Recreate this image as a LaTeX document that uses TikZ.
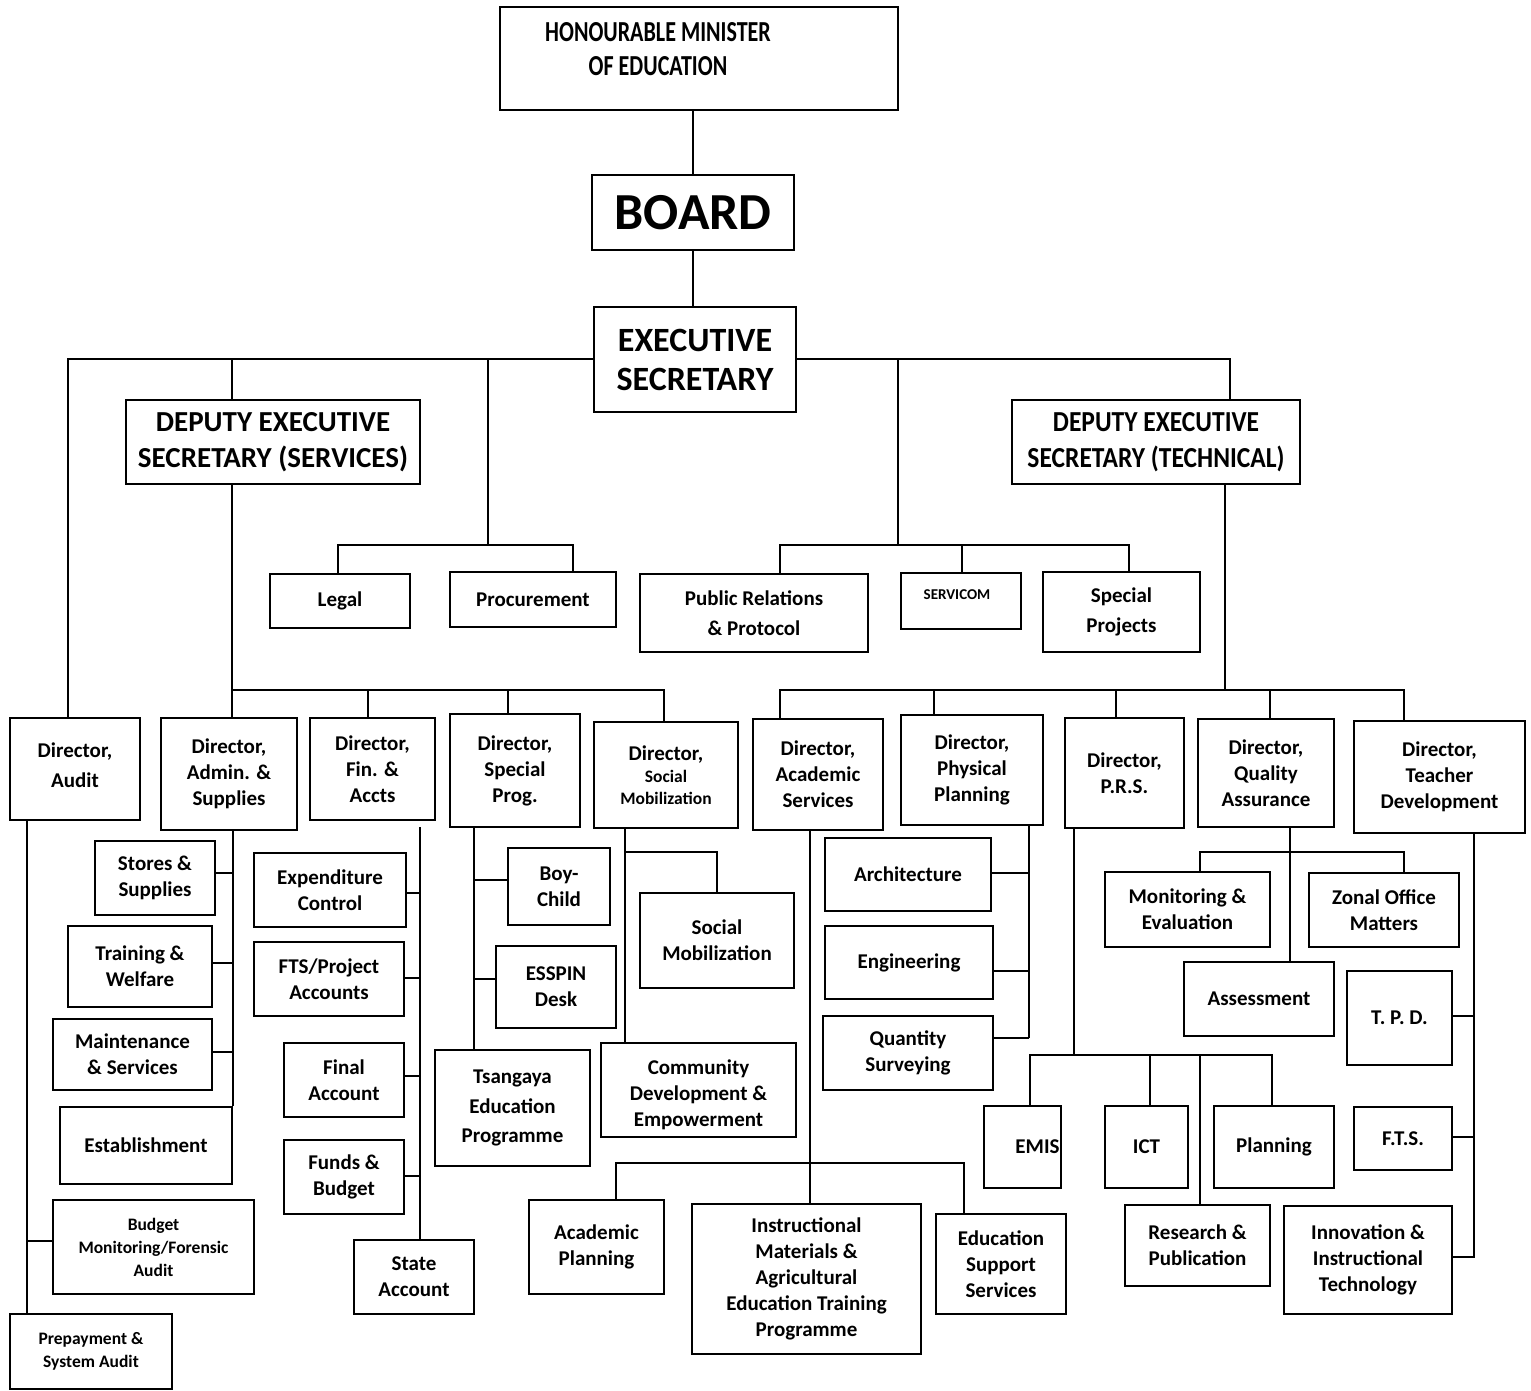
\documentclass[tikz,border=0pt]{standalone}
\usepackage{fontspec}
\setmainfont{Carlito}
\newfontfamily\condA{Carlito}[FakeStretch=0.76]
\newfontfamily\condB{Carlito}[FakeStretch=0.88]
\newcommand\mainf{\fontsize{21}{26}\selectfont\bfseries}
\newcommand\orgbox[7][]{%
  \pgfmathsetmacro\obw{#5-#3}\pgfmathsetmacro\obh{#6-#4}%
  \pgfmathsetmacro\obx{(#3+#5)/2}\pgfmathsetmacro\oby{(#4+#6)/2}%
  \node[box,minimum width=\obw pt,minimum height=\obh pt,#1] (#2) at (\obx,\oby) {#7};}
\tikzset{
  box/.style={draw, rectangle, line width=1.8pt, inner sep=0pt, align=center, font=\mainf},
  ln/.style={line width=1.8pt}
}
\begin{document}
\begin{tikzpicture}[x=1pt,y=-1pt]
\fill[white] (0,0) rectangle (1531,1391);
\useasboundingbox (0,0) rectangle (1531,1391);

% ---- top ----
\orgbox[label={[font=\condA\fontsize{29}{34}\selectfont\bfseries, align=center, xshift=-41pt, yshift=9.5pt]center:{HONOURABLE MINISTER\\OF EDUCATION}}]{min}{500}{7}{898}{110}{}
\orgbox[font=\fontsize{52}{60}\selectfont\bfseries]{board}{592}{175}{794}{250}{\raisebox{-6pt}{BOARD}}
\orgbox[font=\fontsize{34}{39}\selectfont\bfseries]{es}{594}{307}{796}{412}{EXECUTIVE\\SECRETARY}
\orgbox[font=\fontsize{29}{36}\selectfont\bfseries]{dess}{126}{400}{420}{484}{DEPUTY EXECUTIVE\\SECRETARY (SERVICES)}
\orgbox[font=\condB\fontsize{29}{36}\selectfont\bfseries]{dest}{1012}{400}{1300}{484}{DEPUTY EXECUTIVE\\SECRETARY (TECHNICAL)}

\orgbox{legal}{270}{574}{410}{628}{Legal}
\orgbox{proc}{450}{572}{616}{627}{Procurement}
\orgbox[font=\fontsize{21}{30}\selectfont\bfseries]{pr}{640}{574}{868}{652}{Public Relations\\\& Protocol}
\orgbox[label={[font=\fontsize{15}{18}\selectfont\bfseries, yshift=6pt, xshift=-4pt]center:SERVICOM}]{svc}{901}{573}{1021}{629}{}
\orgbox[font=\fontsize{21}{30}\selectfont\bfseries]{sp}{1043}{572}{1200}{652}{Special\\Projects}

% ---- directors ----
\orgbox[font=\fontsize{21}{30}\selectfont\bfseries]{aud}{10}{718}{140}{820}{Director,\\Audit\rule[-8pt]{0pt}{1pt}}
\orgbox{adm}{161}{718}{297}{830}{Director,\\Admin. \&\\Supplies}
\orgbox{fin}{310}{718}{435}{820}{Director,\\Fin. \&\\Accts}
\orgbox{spg}{450}{714}{580}{827}{Director,\\Special\\Prog.}
\orgbox[font=\fontsize{17.5}{22}\selectfont\bfseries]{soc}{594}{722}{738}{828}{{\fontsize{21}{26}\selectfont Director,}\\Social\\Mobilization}
\orgbox{acad}{753}{719}{883}{830}{Director,\\Academic\\Services}
\orgbox{phys}{901}{715}{1043}{825}{Director,\\Physical\\Planning}
\orgbox{prs}{1065}{718}{1184}{828}{Director,\\P.R.S.}
\orgbox{qa}{1198}{719}{1334}{827}{Director,\\Quality\\Assurance}
\orgbox{td}{1354}{721}{1525}{833}{Director,\\Teacher\\Development}

% ---- audit ----
\orgbox[font=\fontsize{17.5}{23}\selectfont\bfseries]{bud}{53}{1200}{254}{1294}{Budget\\Monitoring/Forensic\\Audit}
\orgbox[font=\fontsize{17.5}{23}\selectfont\bfseries]{pre}{10}{1314}{172}{1389}{Prepayment \&\\System Audit}
% ---- admin ----
\orgbox{sto}{95}{841}{215}{915}{Stores \&\\Supplies}
\orgbox{trw}{68}{926}{212}{1007}{Training \&\\Welfare}
\orgbox{mai}{53}{1019}{212}{1090}{Maintenance\\\& Services}
\orgbox{est}{60}{1107}{232}{1184}{Establishment}
% ---- finance ----
\orgbox{exp}{254}{853}{406}{927}{Expenditure\\Control}
\orgbox{fts}{254}{942}{404}{1016}{FTS/Project\\Accounts}
\orgbox{fac}{284}{1043}{404}{1117}{Final\\Account}
\orgbox{fnb}{284}{1140}{404}{1214}{Funds \&\\Budget}
\orgbox{sta}{354}{1240}{474}{1314}{State\\Account}
% ---- special prog ----
\orgbox{boy}{508}{848}{610}{925}{Boy-\\Child}
\orgbox{ess}{496}{946}{616}{1028}{ESSPIN\\Desk}
\orgbox[font=\fontsize{21}{29.5}\selectfont\bfseries]{tsa}{435}{1050}{590}{1166}{Tsangaya\\Education\\Programme}
% ---- social ----
\orgbox{smo}{640}{893}{794}{988}{Social\\Mobilization}
\orgbox{cde}{601}{1043}{796}{1137}{\rule{0pt}{24pt}Community\\Development \&\\Empowerment}
% ---- academic ----
\orgbox{apl}{529}{1200}{664}{1294}{Academic\\Planning}
\orgbox{ima}{692}{1204}{921}{1354}{Instructional\\Materials \&\\Agricultural\\Education Training\\Programme}
\orgbox{esu}{936}{1214}{1066}{1314}{Education\\Support\\Services}
% ---- physical ----
\orgbox{arc}{825}{838}{991}{911}{Architecture}
\orgbox{eng}{825}{926}{993}{999}{Engineering}
\orgbox{qsv}{823}{1016}{993}{1090}{Quantity\\Surveying}
% ---- PRS ----
\orgbox{emis}{984}{1106}{1061}{1188}{\hspace*{30pt}\raisebox{-10pt}{EMIS}}
\orgbox{ict}{1105}{1106}{1188}{1188}{ICT}
\orgbox{pln}{1214}{1106}{1334}{1188}{Planning}
\orgbox{rnp}{1125}{1205}{1270}{1286}{Research \&\\Publication}
% ---- QA ----
\orgbox{mne}{1105}{872}{1270}{947}{Monitoring \&\\Evaluation}
\orgbox{zon}{1309}{873}{1459}{947}{Zonal Office\\Matters}
\orgbox{ass}{1184}{962}{1334}{1036}{Assessment}
% ---- TD ----
\orgbox{tpd}{1347}{971}{1452}{1065}{T. P. D.}
\orgbox{ftsb}{1354}{1107}{1452}{1170}{F.T.S.}
\orgbox{iit}{1284}{1206}{1452}{1314}{Innovation \&\\Instructional\\Technology}

% ================= connectors =================
\draw[ln] (min.south -| board.north) -- (board.north);
\draw[ln] (board.south) -- (board.south |- es.north);

\coordinate (jA) at (68,359);
\coordinate (jB) at (232,359);
\coordinate (jC) at (488,359);
\coordinate (jD) at (898,359);
\coordinate (jE) at (1230,359);
\draw[ln] (jA |- aud.north) -- (jA) -- (jA -| es.west);
\draw[ln] (jA -| es.east) -- (jE) -- (jE |- dest.north);
\draw[ln] (jB) -- (jB |- dess.north);

\coordinate (lpL) at (338,545);
\coordinate (lpR) at (573,545);
\draw[ln] (jC) -- (jC |- lpL);
\draw[ln] (lpL |- legal.north) -- (lpL) -- (lpR) -- (lpR |- proc.north);

\coordinate (prL) at (780,545);
\coordinate (prM) at (962,545);
\coordinate (prR) at (1129,545);
\draw[ln] (jD) -- (jD |- prL);
\draw[ln] (prL |- pr.north) -- (prL) -- (prR) -- (prR |- sp.north);
\draw[ln] (prM) -- (prM |- svc.north);

% services bus
\coordinate (sA) at (232,690);
\coordinate (sF) at (368,690);
\coordinate (sS) at (508,690);
\coordinate (sE) at (664,690);
\draw[ln] (sA |- dess.south) -- (sA |- adm.north);
\draw[ln] (sA) -- (sE) -- (sE |- soc.north);
\draw[ln] (sF) -- (sF |- fin.north);
\draw[ln] (sS) -- (sS |- spg.north);

% technical bus
\coordinate (tA) at (1225,690);
\coordinate (tL) at (780,690);
\coordinate (tP) at (934,690);
\coordinate (tQ) at (1116,690);
\coordinate (tU) at (1270,690);
\coordinate (tR) at (1404,690);
\draw[ln] (tA |- dest.south) -- (tA);
\draw[ln] (tL |- acad.north) -- (tL) -- (tR) -- (tR |- td.north);
\draw[ln] (tP) -- (tP |- phys.north);
\draw[ln] (tQ) -- (tQ |- prs.north);
\draw[ln] (tU) -- (tU |- qa.north);

% audit
\coordinate (aX) at (27,1241);
\draw[ln] (aX |- aud.south) -- (aX |- pre.north);
\draw[ln] (aX) -- (aX -| bud.west);

% admin
\coordinate (ad1) at (232,873);
\coordinate (ad2) at (232,963);
\coordinate (ad3) at (232,1052);
\draw[ln] (est.north east |- adm.south) -- (est.north east);
\draw[ln] (ad1) -- (ad1 -| sto.east);
\draw[ln] (ad2) -- (ad2 -| trw.east);
\draw[ln] (ad3) -- (ad3 -| mai.east);

% finance
\coordinate (fX) at (420,827);
\coordinate (f1) at (420,893);
\coordinate (f2) at (420,978);
\coordinate (f3) at (420,1076);
\coordinate (f4) at (420,1176);
\draw[ln] (fX) -- (fX |- sta.north);
\draw[ln] (f1) -- (f1 -| exp.east);
\draw[ln] (f2) -- (f2 -| fts.east);
\draw[ln] (f3) -- (f3 -| fac.east);
\draw[ln] (f4) -- (f4 -| fnb.east);

% special programmes
\coordinate (p1) at (474,880);
\coordinate (p2) at (474,979);
\draw[ln] (p1 |- spg.south) -- (p1 |- tsa.north);
\draw[ln] (p1) -- (p1 -| boy.west);
\draw[ln] (p2) -- (p2 -| ess.west);

% social mobilization
\coordinate (smJ) at (625,852);
\draw[ln] (smJ |- soc.south) -- (smJ |- cde.north);
\draw[ln] (smJ) -| (smo.north);

% academic
\coordinate (aJ) at (810,1163);
\coordinate (aL) at (616,1163);
\coordinate (aR) at (964,1163);
\draw[ln] (aJ |- acad.south) -- (aJ |- ima.north);
\draw[ln] (aL |- apl.north) -- (aL) -- (aR) -- (aR |- esu.north);

% physical planning
\coordinate (phX) at (1029,1038);
\coordinate (ph1) at (1029,873);
\coordinate (ph2) at (1029,971);
\draw[ln] (phX |- phys.south) -- (phX);
\draw[ln] (ph1) -- (ph1 -| arc.east);
\draw[ln] (ph2) -- (ph2 -| eng.east);
\draw[ln] (phX) -- (phX -| qsv.east);

% PRS
\coordinate (pJ) at (1074,1055);
\coordinate (pL) at (1030,1055);
\coordinate (pI) at (1150,1055);
\coordinate (pS) at (1200,1055);
\coordinate (pR) at (1272,1055);
\draw[ln] (pJ |- prs.south) -- (pJ);
\draw[ln] (pL |- emis.north) -- (pL) -- (pR) -- (pR |- pln.north);
\draw[ln] (pI) -- (pI |- ict.north);
\draw[ln] (pS) -- (pS |- rnp.north);

% QA
\coordinate (qX) at (1290,852);
\coordinate (qL) at (1200,852);
\coordinate (qR) at (1404,852);
\draw[ln] (qX |- qa.south) -- (qX |- ass.north);
\draw[ln] (qL |- mne.north) -- (qL) -- (qR) -- (qR |- zon.north);

% teacher development
\coordinate (tdX) at (1474,1257);
\coordinate (td1) at (1474,1016);
\coordinate (td2) at (1474,1137);
\draw[ln] (tdX |- td.south) -- (tdX) -- (tdX -| iit.east);
\draw[ln] (td1) -- (td1 -| tpd.east);
\draw[ln] (td2) -- (td2 -| ftsb.east);
\end{tikzpicture}
\end{document}
